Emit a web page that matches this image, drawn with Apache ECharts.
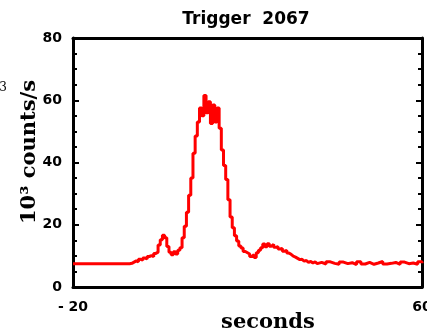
<!DOCTYPE html>
<html>
<head>
<meta charset="utf-8">
<script src="https://cdn.jsdelivr.net/npm/echarts@6/dist/echarts.min.js"></script>
<style>
  html, body { margin: 0; padding: 0; background: #fff; }
  #chart { width: 427px; height: 335px; }
</style>
</head>
<body>
<div id="chart"></div>
<script>
// Light curve of BATSE trigger 2067 (rate in 10^3 counts/s vs. seconds)
const titleText = 'Trigger  2067';
const xLabel = 'seconds';
const yLabel = '10\u00b3 counts/s';

// Bin start times (s)
const times = [
  -20, -7.5,
  -7, -6.5, -6, -5.5, -5, -4.5, -4, -3.5, -3, -2.5, -2, -1.5, -1, -0.5,
  0, 0.5, 1, 1.5, 2, 2.5, 3, 3.5, 4, 4.5, 5, 5.5, 6, 6.5, 7, 7.5,
  8, 8.5, 9, 9.5, 10, 10.5, 11, 11.5, 12, 12.5, 13, 13.5, 14, 14.5, 15, 15.5,
  16, 16.5, 17, 17.5, 18, 18.5, 19, 19.5, 20, 20.5, 21, 21.5, 22, 22.5, 23, 23.5,
  24, 24.5, 25, 25.5, 26, 26.5, 27, 27.5, 28, 28.5, 29, 29.5, 30, 30.5, 31, 31.5,
  32, 32.5, 33, 33.5, 34, 34.5, 35, 35.5, 36,
  37, 38, 39, 40, 41, 42, 43, 44, 45, 46, 47, 48, 49, 50, 51, 52, 53, 54, 55, 56, 57, 58, 59, 60
];

// Count rate per bin (10^3 counts/s)
const rates = [
  7.5, 7.5,
  7.6, 8.0, 8.4, 8.1, 8.9, 8.6, 9.3, 9.0, 9.8, 10.1, 9.7, 10.8, 11.2, 13.5,
  15.2, 16.6, 15.8, 13.0, 11.2, 10.4, 11.3, 10.6, 11.8, 12.6, 15.8, 19.5, 24.0, 29.5, 35.0, 43.0,
  48.5, 53.0, 57.5, 55.0, 61.5, 56.0, 59.5, 52.5, 58.5, 53.0, 57.5, 51.0, 44.0, 39.0, 34.5, 28.0,
  22.5, 19.0, 16.5, 14.8, 13.2, 12.5, 11.4, 11.0, 10.6, 9.8, 10.4, 9.5, 11.0, 11.8, 12.6, 13.8,
  12.9, 13.9, 13.1, 13.7, 12.8, 12.9, 12.2, 12.4, 11.5, 11.8, 10.9, 10.5, 9.9, 9.6, 9.2, 8.8,
  8.9, 8.3, 8.5, 7.9, 8.2, 7.7, 8.1, 7.5, 7.9,
  7.4, 8.1, 7.6, 7.3, 8.0, 7.5, 7.8, 7.2, 8.1, 7.4, 7.9, 7.3, 7.7, 8.2, 7.4, 7.6, 7.9, 7.3, 8.0, 7.5, 7.7, 7.3, 8.1, 7.6
];

const xTicks = [-20, 60];
const yTicks = [0, 20, 40, 60, 80];

const series = times.map((t, i) => [t, rates[i]]);

const tickFont = { fontFamily: 'DejaVu Sans', fontWeight: 'bold', fontSize: 14, color: '#000' };
const axisLineStyle = { color: '#000', width: 3 };

const chart = echarts.init(document.getElementById('chart'), null, { renderer: 'canvas' });
chart.setOption({
  animation: false,
  backgroundColor: '#fff',
  grid: { left: 73, right: 5, top: 38, bottom: 48, containLabel: false, outerBoundsMode: 'none' },
  xAxis: [
    {
      type: 'value', min: -20, max: 60, position: 'bottom',
      axisLine: { show: true, onZero: false, lineStyle: axisLineStyle },
      axisTick: { show: true, inside: true, length: 6, customValues: xTicks, lineStyle: { width: 2, color: '#000' } },
      axisLabel: Object.assign({ customValues: xTicks, margin: 13, hideOverlap: false,
        formatter: v => v < 0 ? '- ' + Math.abs(v) : String(v) }, tickFont),
      splitLine: { show: false }
    },
    {
      type: 'value', min: -20, max: 60, position: 'top',
      axisLine: { show: true, onZero: false, lineStyle: axisLineStyle },
      axisTick: { show: false }, axisLabel: { show: false }, splitLine: { show: false }
    }
  ],
  yAxis: [
    {
      type: 'value', min: 0, max: 80, interval: 20, position: 'left',
      axisLine: { show: true, onZero: false, lineStyle: axisLineStyle },
      axisTick: { show: true, inside: true, length: 6, lineStyle: { width: 2, color: '#000' } },
      minorTick: { show: true, splitNumber: 4, length: 4, lineStyle: { width: 2, color: '#000' } },
      axisLabel: Object.assign({ margin: 11, customValues: yTicks }, tickFont),
      splitLine: { show: false }
    },
    {
      type: 'value', min: 0, max: 80, interval: 20, position: 'right',
      axisLine: { show: true, onZero: false, lineStyle: axisLineStyle },
      axisTick: { show: true, inside: true, length: 6, lineStyle: { width: 2, color: '#000' } },
      minorTick: { show: true, splitNumber: 4, length: 4, lineStyle: { width: 2, color: '#000' } },
      axisLabel: { show: false }, splitLine: { show: false }
    }
  ],
  series: [{
    type: 'line',
    data: series,
    step: 'end',
    showSymbol: false,
    lineStyle: { color: '#ff0000', width: 3 },
    z: 1
  }],
  graphic: [
    { type: 'text', x: 246, y: 20,
      style: { text: titleText, fill: '#000', font: 'bold 17px "DejaVu Sans"', align: 'center', verticalAlign: 'middle' } },
    { type: 'text', x: 268, y: 323,
      style: { text: xLabel, fill: '#000', font: 'bold 21px "DejaVu Serif"', align: 'center', verticalAlign: 'middle' } },
    { type: 'text', x: 30, y: 152, rotation: Math.PI / 2,
      style: { text: yLabel, fill: '#000', font: 'bold 21px "DejaVu Serif"', align: 'center', verticalAlign: 'middle' } },
    { type: 'text', x: 3, y: 88,
      style: { text: '3', fill: '#000', font: '12px "DejaVu Serif"', align: 'center', verticalAlign: 'middle' } }
  ]
});
</script>
</body>
</html>
